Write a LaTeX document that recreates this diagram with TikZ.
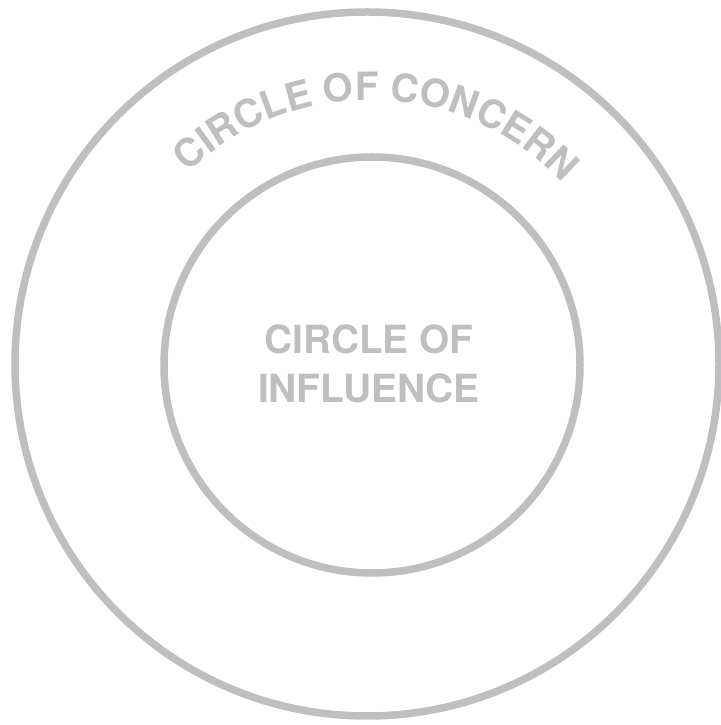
\documentclass[tikz,border=0pt]{standalone}
\usepackage{fontspec}
\setmainfont{TeX Gyre Heros}
\usetikzlibrary{decorations.text}
\definecolor{cgray}{RGB}{190,191,193}
\tikzset{
  ring/.style={draw=cgray, line width=7.5bp},
  label/.style={text=cgray, font=\fontsize{39}{49}\selectfont\bfseries, align=center, inner sep=0pt}
}
\begin{document}
\begin{tikzpicture}[x=1bp,y=1bp]
\useasboundingbox (0,0) rectangle (721,725);
\coordinate (oc) at (367,361);
\coordinate (ic) at (372,360);
\draw[ring] (oc) circle[radius=352];
\draw[ring] (ic) circle[radius=208];
\node[label] (influence) at (369,361) {CIRCLE OF\\INFLUENCE};
% baseline arc of radius 265 about (370,360), starting at 148.35 deg
\coordinate (arcstart) at ({370+265*cos(148.35)},{360+265*sin(148.35)});
\path[decorate, decoration={text along path, text align=center,
  text={|\fontsize{39}{39}\selectfont\bfseries\color{cgray}|CIRCLE OF CONCERN}}]
  (arcstart) arc[start angle=148.35, end angle=28.35, radius=265];
\end{tikzpicture}
\end{document}
